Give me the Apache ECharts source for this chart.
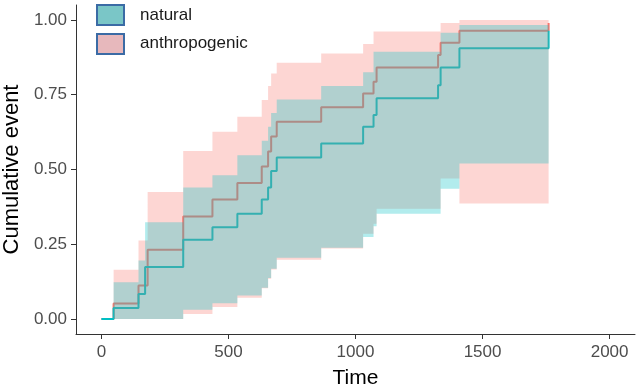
<!DOCTYPE html>
<html>
<head>
<meta charset="utf-8">
<script src="https://cdn.jsdelivr.net/npm/echarts@6/dist/echarts.min.js"></script>
<style>
  html, body { margin: 0; padding: 0; background: #fff; }
  #chart { width: 639px; height: 391px; }
</style>
</head>
<body>
<div id="chart"></div>
<script>
// step times shared by both curves
const times = [0, 48, 146, 172, 182, 322, 437, 535, 631, 656, 668, 690, 865, 1030, 1071, 1083, 1325, 1335, 1409, 1760];

// cumulative incidence, natural
const natural = [0, 0.037, 0.084, 0.174, 0.174, 0.265, 0.307, 0.352, 0.40, 0.44, 0.495, 0.54, 0.587, 0.643, 0.682, 0.738, 0.782, 0.841, 0.905, 0.964];
const naturalUpper = [0, 0.123, 0.196, 0.324, 0.324, 0.44, 0.481, 0.548, 0.596, 0.643, 0.689, 0.734, 0.779, 0.825, 0.894, 0.894, 0.894, 0.957, 0.983, 0.983];
const naturalLower = [0, 0, 0, 0, 0, 0.031, 0.053, 0.079, 0.105, 0.137, 0.168, 0.205, 0.238, 0.274, 0.31, 0.352, 0.352, 0.436, 0.52, 0.52];

// cumulative incidence, anthropogenic
const anthro = [0, 0.052, 0.112, 0.112, 0.232, 0.343, 0.40, 0.455, 0.51, 0.56, 0.61, 0.66, 0.708, 0.754, 0.793, 0.841, 0.883, 0.924, 0.964, 0.99];
const anthroUpper = [0, 0.165, 0.263, 0.263, 0.425, 0.562, 0.626, 0.676, 0.732, 0.779, 0.821, 0.857, 0.888, 0.92, 0.961, 0.961, 0.961, 0.99, 1.0, 1.0];
const anthroLower = [0, 0, 0, 0, 0, 0.017, 0.04, 0.071, 0.103, 0.135, 0.166, 0.198, 0.236, 0.285, 0.319, 0.369, 0.369, 0.47, 0.386, 0.386];

const xTicks = [0, 500, 1000, 1500, 2000];
const yTicks = [0, 0.25, 0.5, 0.75, 1];

const FONT = '"Liberation Sans", Arial, sans-serif';

function pairs(vals) {
  return times.map((t, i) => [t, vals[i]]);
}

// band polygon: upper edge forward, lower edge back
function bandSeries(upper, lower, fill, z) {
  return {
    type: 'custom',
    z: z,
    silent: true,
    data: [[times[1], upper[1]]],
    encode: { x: 0, y: 1 },
    renderItem: function (params, api) {
      const n = times.length;
      const pts = [];
      for (let i = 1; i < n - 1; i++) {
        pts.push(api.coord([times[i], upper[i]]));
        pts.push(api.coord([times[i + 1], upper[i]]));
      }
      for (let i = n - 2; i >= 1; i--) {
        pts.push(api.coord([times[i + 1], lower[i]]));
        pts.push(api.coord([times[i], lower[i]]));
      }
      return { type: 'polygon', shape: { points: pts }, style: { fill: fill } };
    }
  };
}

let myChart = echarts.init(document.getElementById('chart'));
myChart.setOption({
  animation: false,
  grid: { left: 76, right: 4, top: 5, bottom: 57, containLabel: false, outerBoundsMode: 'none' },
  xAxis: {
    type: 'value',
    min: -100,
    max: 2100,
    name: 'Time',
    nameLocation: 'middle',
    nameGap: 34,
    nameTextStyle: { color: '#000', fontSize: 21, fontFamily: FONT },
    axisLine: { show: true, onZero: false, lineStyle: { color: '#333', width: 1 } },
    axisTick: { show: true, length: 5, customValues: xTicks, lineStyle: { color: '#333' } },
    axisLabel: {
      customValues: xTicks,
      margin: 10,
      color: '#4d4d4d',
      fontSize: 17,
      fontFamily: FONT,
      formatter: v => String(v)
    },
    splitLine: { show: false }
  },
  yAxis: {
    type: 'value',
    min: -0.05,
    max: 1.05,
    name: 'Cumulative event',
    nameLocation: 'middle',
    nameGap: 44,
    nameTextStyle: { color: '#000', fontSize: 22, fontFamily: FONT },
    axisLine: { show: true, onZero: false, lineStyle: { color: '#333', width: 1 } },
    axisTick: { show: true, length: 5, customValues: yTicks, lineStyle: { color: '#333' } },
    axisLabel: {
      customValues: yTicks,
      margin: 9,
      color: '#4d4d4d',
      fontSize: 17,
      fontFamily: FONT,
      formatter: v => v.toFixed(2)
    },
    splitLine: { show: false }
  },
  series: [
    {
      name: 'anthropogenic',
      type: 'line',
      step: 'end',
      z: 2,
      showSymbol: false,
      data: pairs(anthro),
      lineStyle: { color: '#F8766D', width: 2 }
    },
    {
      name: 'natural',
      type: 'line',
      step: 'end',
      z: 3,
      showSymbol: false,
      data: pairs(natural),
      lineStyle: { color: '#00BFC4', width: 2 }
    },
    bandSeries(anthroUpper, anthroLower, 'rgba(248,118,109,0.3)', 4),
    bandSeries(naturalUpper, naturalLower, 'rgba(0,191,196,0.3)', 5)
  ],
  graphic: [
    { type: 'rect', left: 96, top: 4, shape: { width: 27, height: 20 },
      style: { fill: '#7ac6c7', stroke: '#3b6ba5', lineWidth: 2 } },
    { type: 'rect', left: 96, top: 33, shape: { width: 27, height: 20 },
      style: { fill: '#e7b8bc', stroke: '#3b6ba5', lineWidth: 2 } },
    { type: 'text', left: 140, top: 7,
      style: { text: 'natural', fill: '#1a1a1a', font: '17px ' + FONT } },
    { type: 'text', left: 140, top: 35,
      style: { text: 'anthropogenic', fill: '#1a1a1a', font: '17px ' + FONT } }
  ]
});
</script>
</body>
</html>
